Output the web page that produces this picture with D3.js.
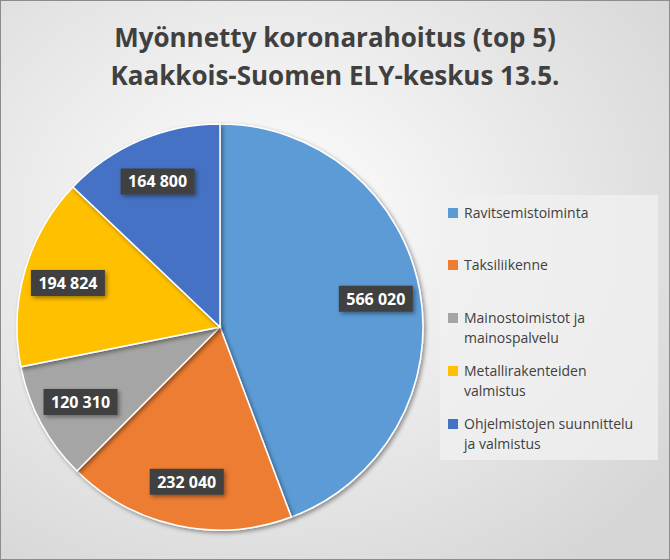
<!DOCTYPE html>
<html><head><meta charset="utf-8">
<script src="https://cdn.jsdelivr.net/npm/d3@7"></script>
<style>body{margin:0;}</style>
</head><body><div id="chart"></div>
<script>
const categories = ["Ravitsemistoiminta", "Taksiliikenne", "Mainostoimistot ja mainospalvelu", "Metallirakenteiden valmistus", "Ohjelmistojen suunnittelu ja valmistus"];
const legendLines = [["Ravitsemistoiminta"], ["Taksiliikenne"], ["Mainostoimistot ja", "mainospalvelu"], ["Metallirakenteiden", "valmistus"], ["Ohjelmistojen suunnittelu", "ja valmistus"]];
const values = [566020, 232040, 120310, 194824, 164800];
const labels = ["566 020", "232 040", "120 310", "194 824", "164 800"];
const colors = ["#5b9bd5", "#ed7d31", "#a5a5a5", "#ffc000", "#4472c4"];

const W = 670, H = 560;
const svg = d3.select("#chart").append("svg").attr("width", W).attr("height", H)
    .style("font-family", "'Open Sans', Calibri, sans-serif");

const defs = svg.append("defs");
const grad = defs.append("radialGradient").attr("id", "bg").attr("cx", "40%").attr("cy", "40%").attr("r", "75%");
grad.append("stop").attr("offset", "0%").attr("stop-color", "#ffffff");
grad.append("stop").attr("offset", "100%").attr("stop-color", "#d6d6d6");
const sh = defs.append("filter").attr("id", "sh").attr("x", "-20%").attr("y", "-20%").attr("width", "150%").attr("height", "150%");
sh.append("feDropShadow").attr("dx", 2).attr("dy", 2).attr("stdDeviation", 2).attr("flood-opacity", 0.4);

svg.append("rect").attr("x", 0.5).attr("y", 0.5).attr("width", W - 1).attr("height", H - 1)
    .attr("fill", "url(#bg)").attr("stroke", "#8c8c8c");

svg.append("text").attr("x", 335).attr("y", 47).attr("text-anchor", "middle")
    .attr("font-size", 26).attr("font-weight", "bold").attr("fill", "#404040").text("Myönnetty koronarahoitus (top 5)");
svg.append("text").attr("x", 335).attr("y", 85).attr("text-anchor", "middle")
    .attr("font-size", 26).attr("font-weight", "bold").attr("fill", "#404040").text("Kaakkois-Suomen ELY-keskus 13.5.");

const cx = 220, cy = 327, r = 203;
const pie = d3.pie().sort(null).value(d => d);
const arcs = pie(values);
const arc = d3.arc().innerRadius(0).outerRadius(r);
const g = svg.append("g").attr("transform", `translate(${cx},${cy})`);
g.selectAll("path").data(arcs).join("path")
    .attr("d", arc).attr("fill", (d, i) => colors[i])
    .attr("stroke", "#ffffff").attr("stroke-width", 1.5)
    .attr("filter", "url(#sh)");

const labelArc = d3.arc().innerRadius(r * 0.78).outerRadius(r * 0.78);
const lg = g.selectAll("g.lbl").data(arcs).join("g").attr("class", "lbl")
    .attr("transform", d => `translate(${labelArc.centroid(d)})`);
lg.append("rect").attr("x", -37).attr("y", -13).attr("width", 74).attr("height", 26)
    .attr("fill", "#404040").attr("filter", "url(#sh)");
lg.append("text").attr("text-anchor", "middle").attr("dy", "0.36em")
    .attr("font-size", 16).attr("font-weight", "bold").attr("fill", "#ffffff")
    .text((d, i) => labels[i]);

// legend
svg.append("rect").attr("x", 440).attr("y", 195).attr("width", 218).attr("height", 265)
    .attr("fill", "#f0f0f0").attr("opacity", 0.8);
const yPos = [213, 265, 318, 371, 424];
const leg = svg.selectAll("g.leg").data(categories).join("g").attr("class", "leg")
    .attr("transform", (d, i) => `translate(448,${yPos[i]})`);
leg.append("rect").attr("x", 0).attr("y", -5).attr("width", 10).attr("height", 10).attr("fill", (d, i) => colors[i]);
leg.each(function (d, i) {
    const t = d3.select(this).append("text").attr("font-size", 14).attr("fill", "#404040");
    legendLines[i].forEach((line, j) => {
        t.append("tspan").attr("x", 16).attr("y", j * 20).attr("dy", "0.35em").text(line);
    });
});
</script></body></html>
